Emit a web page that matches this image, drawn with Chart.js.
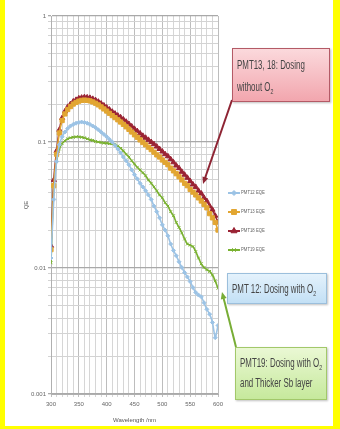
<!DOCTYPE html>
<html>
<head>
<meta charset="utf-8">
<script src="https://cdn.jsdelivr.net/npm/chart.js@4.4.1/dist/chart.umd.min.js"></script>
<style>
  html, body { margin: 0; padding: 0; }
  body { width: 340px; height: 429px; background: #ffff00; position: relative; overflow: hidden; }
  #wrap { position: absolute; left: 5px; top: 0; width: 328px; height: 426px; background: #fff; }
  #qe { position: absolute; left: 0; top: 0; }
  .note {
    position: absolute; box-sizing: border-box; padding: 4px 4px;
    font-family: "Liberation Sans", Arial, sans-serif;
    font-size: 12px; line-height: 22px; color: #444; white-space: nowrap;
    box-shadow: 1px 1px 2px rgba(0,0,0,0.25);
  }
  .note span { display: inline-block; transform: scaleX(0.66); transform-origin: 0 50%; }
  .note sub { font-size: 8px; line-height: 0; }
  #n1 { left: 232px; top: 48px; width: 98px; height: 54px; border: 1px solid #b45a66;
        background: linear-gradient(#fbd9dc, #f2a6ae); padding-top: 5px; }
  #n2 { left: 227px; top: 273px; width: 100px; height: 31px; border: 1px solid #9bbfdc;
        background: linear-gradient(#e4f2fc, #c3e0f5); padding-top: 4px; }
  #n3 { left: 235px; top: 347px; width: 92px; height: 53px; border: 1px solid #a2c86a;
        background: linear-gradient(#eaf8d4, #c6e99c); padding-top: 5px; line-height: 20px; }
</style>
</head>
<body>
<div id="wrap"><canvas id="qe" width="328" height="426"></canvas></div>
<div class="note" id="n1"><span>PMT13, 18: Dosing</span><br><span>without O<sub>2</sub></span></div>
<div class="note" id="n2"><span>PMT 12: Dosing with O<sub>2</sub></span></div>
<div class="note" id="n3"><span>PMT19: Dosing with O<sub>2</sub></span><br><span>and Thicker Sb layer</span></div>
<script>
// wavelength in nm
const wavelengths = [
  300, 305, 310, 315, 320, 325, 330, 335, 340, 345,
  350, 355, 360, 365, 370, 375, 380, 385, 390, 395,
  400, 405, 410, 415, 420, 425, 430, 435, 440, 445,
  450, 455, 460, 465, 470, 475, 480, 485, 490, 495,
  500, 505, 510, 515, 520, 525, 530, 535, 540, 545,
  550, 555, 560, 565, 570, 575, 580, 585, 590, 595, 600
];

const pmt12 = [
  0.012, 0.035, 0.07, 0.095, 0.11, 0.12, 0.128, 0.134, 0.138, 0.141,
  0.143, 0.144, 0.143, 0.141, 0.138, 0.134, 0.13, 0.125, 0.12, 0.115,
  0.11, 0.105, 0.1, 0.094, 0.088, 0.082, 0.076, 0.071, 0.066, 0.06,
  0.055, 0.051, 0.047, 0.044, 0.041, 0.038, 0.035, 0.031, 0.028, 0.025,
  0.022, 0.02, 0.018, 0.0155, 0.0138, 0.0125, 0.0112, 0.0101, 0.0092, 0.0085,
  0.0078, 0.007, 0.0064, 0.0061, 0.0059, 0.0053, 0.0047, 0.0043, 0.0037, 0.0028, 0.0035
];

const pmt13 = [
  0.014, 0.045, 0.08, 0.118, 0.148, 0.167, 0.181, 0.191, 0.2, 0.206,
  0.211, 0.214, 0.215, 0.214, 0.212, 0.208, 0.203, 0.197, 0.19, 0.183,
  0.176, 0.169, 0.162, 0.156, 0.15, 0.144, 0.138, 0.132, 0.126, 0.12,
  0.114, 0.109, 0.104, 0.099, 0.095, 0.091, 0.087, 0.083, 0.079, 0.076,
  0.072, 0.069, 0.066, 0.062, 0.059, 0.056, 0.053, 0.05, 0.047, 0.045,
  0.042, 0.04, 0.038, 0.036, 0.034, 0.032, 0.03, 0.027, 0.025, 0.023, 0.02
];

const pmt18 = [
  0.015, 0.05, 0.085, 0.125, 0.155, 0.175, 0.19, 0.2, 0.21, 0.216,
  0.222, 0.225, 0.227, 0.226, 0.224, 0.22, 0.215, 0.209, 0.202, 0.195,
  0.188, 0.181, 0.174, 0.168, 0.162, 0.157, 0.151, 0.145, 0.139, 0.133,
  0.127, 0.122, 0.117, 0.112, 0.108, 0.104, 0.1, 0.096, 0.092, 0.088,
  0.084, 0.08, 0.077, 0.073, 0.069, 0.065, 0.062, 0.058, 0.055, 0.052,
  0.049, 0.046, 0.044, 0.041, 0.039, 0.036, 0.034, 0.031, 0.029, 0.026, 0.023
];

const pmt19 = [
  0.011, 0.045, 0.07, 0.088, 0.097, 0.102, 0.106, 0.108, 0.109, 0.11,
  0.11, 0.109, 0.108, 0.106, 0.104, 0.103, 0.101, 0.1, 0.099, 0.098,
  0.098, 0.097, 0.097, 0.096, 0.093, 0.089, 0.085, 0.08, 0.076, 0.071,
  0.067, 0.063, 0.06, 0.057, 0.054, 0.05, 0.047, 0.044, 0.041, 0.038,
  0.036, 0.033, 0.031, 0.028, 0.026, 0.023, 0.021, 0.019, 0.017, 0.0155,
  0.0152, 0.0148, 0.0135, 0.012, 0.0108, 0.0101, 0.0097, 0.0094, 0.0088, 0.0079, 0.0069
];

const seriesNames = ["PMT12 EQE", "PMT13 EQE", "PMT18 EQE", "PMT19 EQE"];
const decades = [0.001, 0.01, 0.1, 1];
const mantissas = [1, 2, 3, 4, 5, 6, 7, 8, 9];

const FONT = '"Liberation Sans", Arial, sans-serif';

function pts(values) {
  return values.map((v, i) => ({ x: wavelengths[i], y: v }));
}

function isDecade(v) {
  return decades.some((d) => Math.abs(d - v) < d * 1e-6);
}

// Excel-style legend: short line + marker + name
const sideLegend = {
  id: "sideLegend",
  afterDraw(chart) {
    const ctx = chart.ctx;
    ctx.save();
    chart.data.datasets.forEach((ds, i) => {
      const y = 193 + i * 19;
      ctx.strokeStyle = ds.borderColor;
      ctx.fillStyle = ds.borderColor;
      ctx.lineWidth = 2;
      ctx.beginPath();
      ctx.moveTo(223, y);
      ctx.lineTo(235, y);
      ctx.stroke();
      ctx.lineWidth = 1;
      Chart.helpers.drawPoint(ctx, {
        pointStyle: ds.pointStyle, radius: ds.pointRadius + 0.5, borderWidth: 1
      }, 229, y);
      ctx.fillStyle = "#666";
      ctx.font = "5px " + FONT;
      ctx.textBaseline = "middle";
      ctx.save();
      ctx.translate(236, y);
      ctx.scale(0.85, 1);
      ctx.fillText(ds.label, 0, 0);
      ctx.restore();
    });
    ctx.restore();
  },
};

// arrows from the callout boxes
const arrows = {
  id: "arrows",
  afterDraw(chart) {
    const ctx = chart.ctx;
    const list = [
      { from: [227, 100], to: [198, 184], color: "#8e2433" },
      { from: [231, 347], to: [217, 292], color: "#78ad36" },
    ];
    ctx.save();
    list.forEach((a) => {
      const [x0, y0] = a.from;
      const [x1, y1] = a.to;
      const ang = Math.atan2(y1 - y0, x1 - x0);
      ctx.strokeStyle = a.color;
      ctx.fillStyle = a.color;
      ctx.lineWidth = 2;
      ctx.beginPath();
      ctx.moveTo(x0, y0);
      ctx.lineTo(x1 - 5 * Math.cos(ang), y1 - 5 * Math.sin(ang));
      ctx.stroke();
      ctx.beginPath();
      ctx.moveTo(x1, y1);
      ctx.lineTo(x1 - 7 * Math.cos(ang) + 3 * Math.sin(ang), y1 - 7 * Math.sin(ang) - 3 * Math.cos(ang));
      ctx.lineTo(x1 - 7 * Math.cos(ang) - 3 * Math.sin(ang), y1 - 7 * Math.sin(ang) + 3 * Math.cos(ang));
      ctx.closePath();
      ctx.fill();
    });
    ctx.restore();
  },
};

const ctx = document.getElementById("qe").getContext("2d");
const qeChart = new Chart(ctx, {
  type: "line",
  data: {
    datasets: [
      {
        label: seriesNames[0],
        data: pts(pmt12),
        borderColor: "#9cc3e5",
        backgroundColor: "#9cc3e5",
        pointStyle: "rectRot",
        pointRadius: 2,
      },
      {
        label: seriesNames[1],
        data: pts(pmt13),
        borderColor: "#e2a632",
        backgroundColor: "#e2a632",
        pointStyle: "rect",
        pointRadius: 3,
      },
      {
        label: seriesNames[2],
        data: pts(pmt18),
        borderColor: "#9a2334",
        backgroundColor: "#9a2334",
        pointStyle: "triangle",
        pointRadius: 3,
      },
      {
        label: seriesNames[3],
        data: pts(pmt19),
        borderColor: "#79b130",
        backgroundColor: "#79b130",
        pointStyle: "crossRot",
        pointRadius: 2,
      },
    ],
  },
  options: {
    responsive: false,
    animation: false,
    layout: { padding: { left: 0, top: 16, right: 115, bottom: 0 } },
    elements: {
      line: { borderWidth: 1.6, tension: 0.2 },
      point: { borderWidth: 1 },
    },
    plugins: {
      legend: { display: false },
      tooltip: { enabled: false },
    },
    scales: {
      x: {
        type: "linear",
        min: 300,
        max: 600,
        afterFit: (scale) => { scale.height = 32; },
        ticks: {
          stepSize: 10,
          autoSkip: false,
          maxRotation: 0,
          padding: 4,
          color: "#666",
          font: { size: 6, family: FONT },
          callback: (v) => (v % 50 === 0 ? v : ""),
        },
        grid: {
          color: (c) => (c.tick && c.tick.value % 50 === 0 ? "#bdbdbd" : "#d6d6d6"),
          tickLength: 3,
        },
        border: { color: "#b0b0b0" },
        title: {
          display: true,
          text: "Wavelength /nm",
          color: "#555",
          font: { size: 6, family: FONT },
          padding: { top: 0, bottom: 2 },
        },
      },
      y: {
        type: "logarithmic",
        min: 0.001,
        max: 1,
        afterFit: (scale) => { scale.width = 46; },
        afterBuildTicks: (scale) => {
          const ticks = [];
          decades.forEach((d) => {
            mantissas.forEach((m) => {
              if (d * m <= 1.0000001) ticks.push({ value: d * m });
            });
          });
          scale.ticks = ticks;
        },
        ticks: {
          autoSkip: false,
          padding: 2,
          color: "#666",
          font: { size: 6, family: FONT },
          callback: (v) => (isDecade(v) ? String(+v.toPrecision(3)) : ""),
        },
        grid: {
          color: (c) => (c.tick && isDecade(c.tick.value) ? "#a9a9a9" : "#d3d3d3"),
          lineWidth: (c) => (c.tick && isDecade(c.tick.value) ? 1.3 : 1),
          tickLength: 3,
        },
        border: { color: "#b0b0b0" },
        title: {
          display: true,
          text: "QE",
          color: "#555",
          font: { size: 6, family: FONT },
          padding: { top: 18, bottom: 0 },
        },
      },
    },
  },
  plugins: [sideLegend, arrows],
});
</script>
</body>
</html>
